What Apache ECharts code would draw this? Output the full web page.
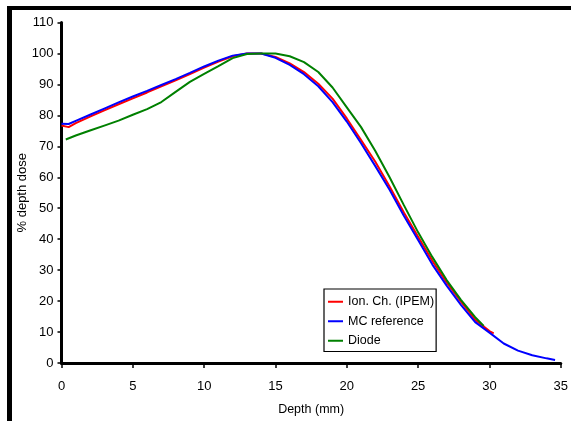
<!DOCTYPE html>
<html>
<head>
<meta charset="utf-8">
<script src="https://cdn.jsdelivr.net/npm/echarts@6/dist/echarts.min.js"></script>
<style>
  html, body { margin: 0; padding: 0; background: #fff; }
  #chart { width: 571px; height: 421px; }
</style>
</head>
<body>
<div id="chart"></div>
<script>
// profundidad (mm) y % de dosis
const depthIon = [0, 0.5, 1, 2, 3, 4, 5, 6, 7, 8, 9, 10, 11, 12, 13, 14, 15, 16, 17, 18, 19, 20, 21, 22, 23, 24, 25, 26, 27, 28, 29, 30, 30.3];
const doseIon = [76.7, 76.2, 77.5, 79.6, 81.6, 83.6, 85.5, 87.4, 89.4, 91.3, 93.3, 95.4, 97.4, 99.1, 100, 100, 98.9, 96.8, 94, 90.2, 85.4, 79, 72, 65, 57, 48.6, 40.8, 33, 26, 19.8, 14, 10.3, 9.6];

const depthMC = [0, 0.5, 1, 2, 3, 4, 5, 6, 7, 8, 9, 10, 11, 12, 13, 14, 15, 16, 17, 18, 19, 20, 21, 22, 23, 24, 25, 26, 27, 28, 29, 30, 31, 32, 33, 34, 34.6];
const doseMC = [77.3, 77.2, 78.2, 80.2, 82.2, 84.2, 86.1, 87.9, 89.8, 91.7, 93.7, 95.8, 97.7, 99.3, 100, 100, 98.6, 96.3, 93.3, 89.4, 84.3, 78, 71, 63.6, 56, 47.6, 39.7, 31.8, 25, 18.8, 13.2, 9.8, 6.3, 4, 2.5, 1.5, 1.0];

const depthDiode = [0.3, 1, 2, 3, 4, 5, 6, 7, 8, 9, 10, 11, 12, 13, 14, 15, 16, 17, 18, 19, 20, 21, 22, 23, 24, 25, 26, 27, 28, 29, 29.6];
const doseDiode = [72.2, 73.5, 75.1, 76.7, 78.3, 80.2, 82, 84.3, 87.6, 90.8, 93.4, 95.9, 98.5, 99.8, 100, 100, 99.1, 97.2, 94, 89, 82.6, 76.2, 68.5, 60, 51, 42.2, 34.2, 26.8, 20.4, 14.8, 12];

const seriesNames = ["Ion. Ch. (IPEM)", "MC reference", "Diode"];
const seriesColors = ["#ff0000", "#0000ff", "#008000"];

const zip = (xs, ys) => xs.map((x, i) => [x, ys[i]]);

const chart = echarts.init(document.getElementById("chart"));
const font = "'Liberation Sans', Arial, sans-serif";

const option = {
    animation: false,
    backgroundColor: "#fff",
    textStyle: { fontFamily: font, color: "#000" },
    // marco negro arriba e izquierda
    graphic: [
        { type: "rect", shape: { x: 7, y: 6, width: 564, height: 4 }, style: { fill: "#000" } },
        { type: "rect", shape: { x: 7, y: 6, width: 5, height: 415 }, style: { fill: "#000" } }
    ],
    grid: { left: 61.5, right: 8, top: 22.5, bottom: 57.5 },
    legend: {
        data: seriesNames,
        orient: "vertical",
        left: 324,
        top: 289,
        padding: [3, 2, 1, 4],
        itemGap: 0,
        itemWidth: 15,
        itemHeight: 2,
        icon: "rect",
        borderColor: "#000",
        borderWidth: 1.2,
        backgroundColor: "#fff",
        textStyle: { fontFamily: font, fontSize: 12.5, color: "#000", lineHeight: 19.5 }
    },
    xAxis: {
        type: "value",
        min: 0,
        max: 35,
        interval: 5,
        name: "Depth (mm)",
        nameLocation: "middle",
        nameGap: 40,
        nameMoveOverlap: false,
        nameTextStyle: { fontFamily: font, fontSize: 12.5, color: "#000" },
        axisLine: { lineStyle: { color: "#000", width: 3 } },
        axisTick: { length: 5, lineStyle: { color: "#000", width: 1.5 } },
        axisLabel: { margin: 17, fontSize: 13, color: "#000", fontFamily: font },
        splitLine: { show: false }
    },
    yAxis: {
        type: "value",
        min: 0,
        max: 110,
        interval: 10,
        name: "% depth dose",
        nameLocation: "middle",
        nameGap: 33,
        nameMoveOverlap: false,
        nameTextStyle: { fontFamily: font, fontSize: 13, color: "#000" },
        axisLine: { show: true, lineStyle: { color: "#000", width: 3 } },
        axisTick: { show: true, length: 4, lineStyle: { color: "#000", width: 1.5 } },
        axisLabel: { margin: 8, fontSize: 13, color: "#000", fontFamily: font },
        splitLine: { show: false }
    },
    series: [
        {
            name: seriesNames[0],
            type: "line",
            data: zip(depthIon, doseIon),
            showSymbol: false,
            symbol: "none",
            lineStyle: { color: seriesColors[0], width: 2 },
            itemStyle: { color: seriesColors[0] }
        },
        {
            name: seriesNames[1],
            type: "line",
            data: zip(depthMC, doseMC),
            showSymbol: false,
            symbol: "none",
            lineStyle: { color: seriesColors[1], width: 2 },
            itemStyle: { color: seriesColors[1] }
        },
        {
            name: seriesNames[2],
            type: "line",
            data: zip(depthDiode, doseDiode),
            showSymbol: false,
            symbol: "none",
            lineStyle: { color: seriesColors[2], width: 2 },
            itemStyle: { color: seriesColors[2] }
        }
    ]
};

chart.setOption(option);
window.addEventListener("resize", () => chart.resize());
</script>
</body>
</html>
